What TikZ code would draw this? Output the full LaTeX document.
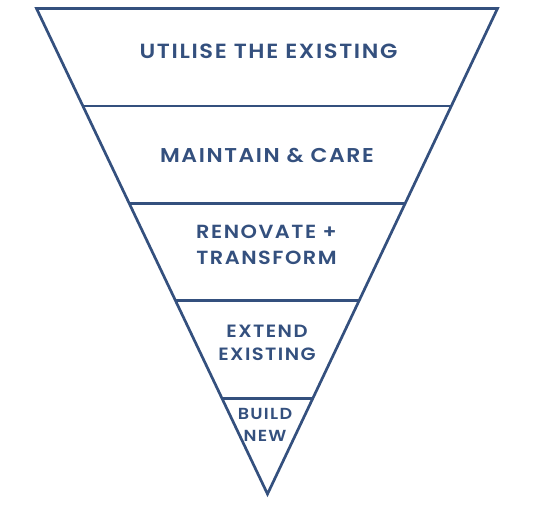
\documentclass[tikz,border=0pt]{standalone}
\usepackage{fontspec}
\setmainfont{Poppins}[BoldFont={* SemiBold}, LetterSpace=8, FakeStretch=1.1]
\usepackage{tikz}
\definecolor{tb}{RGB}{52, 80, 126}
\usetikzlibrary{positioning}
\tikzset{
  edge/.style={line width=2.7pt, color=tb, line join=miter},
  lbl/.style={text=tb, font=\bfseries\fontsize{20.5}{26}\selectfont, align=center, inner sep=0pt},
  lblmid/.style={text=tb, font=\bfseries\fontsize{19}{26}\selectfont, align=center, inner sep=0pt},
  lblsmall/.style={text=tb, font=\bfseries\fontsize{17.8}{23}\selectfont, align=center, inner sep=0pt},
  lbltiny/.style={text=tb, font=\bfseries\fontsize{16}{22}\selectfont, align=center, inner sep=0pt}
}

\begin{document}
\begin{tikzpicture}[x=1pt, y=-1pt]
\useasboundingbox (0, 0) rectangle (535, 505);
\coordinate (tl) at (36.5, 8.5);
\coordinate (tr) at (497.5, 8.5);
\coordinate (apex) at (267.5, 494);
\coordinate (l1) at (82.6, 106);
\coordinate (r1) at (451.4, 106);
\coordinate (l2) at (129.2, 203.5);
\coordinate (r2) at (404.9, 203.5);
\coordinate (l3) at (175.6, 300.5);
\coordinate (r3) at (358.6, 300.5);
\coordinate (l4) at (222.4, 398.5);
\coordinate (r4) at (312.1, 398.5);
\draw [edge] (apex) -- (tl) -- (tr) -- cycle;
\draw [edge] (l1) to (r1);
\draw [edge] (l2) to (r2);
\draw [edge] (l3) to (r3);
\draw [edge] (l4) to (r4);
\node (utilise) [lbl] at (268.5, 51) {UTILISE THE EXISTING};
\node (maintain) [lbl, font=\bfseries\fontsize{20}{26}\selectfont] at (267, 155) {MAINTAIN \& CARE};
\node (renovate) [lblmid] at (266.5, 245) {RENOVATE +\\TRANSFORM};
\node (extend) [lblsmall] at (267, 342.5) {EXTEND\\EXISTING};
\node (build) [lbltiny] at (265, 425) {BUILD\\NEW};
\end{tikzpicture}
\end{document}
